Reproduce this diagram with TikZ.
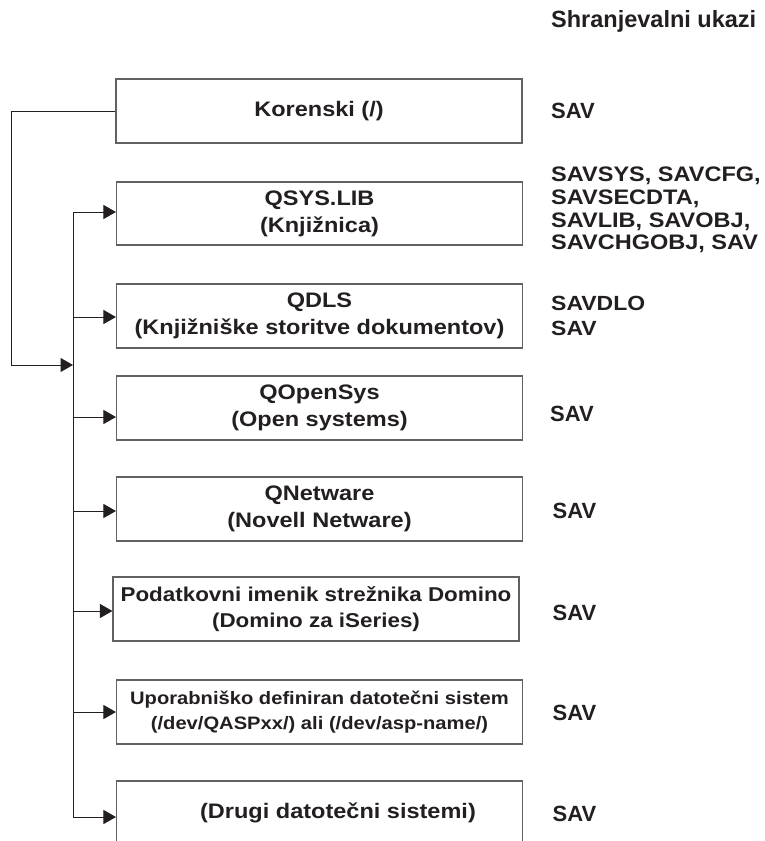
\documentclass[tikz,border=0pt]{standalone}
\usepackage{fontspec}
\setmainfont{Liberation Sans}
\newfontfamily\boxfont{Liberation Sans}[FakeStretch=1.12]
\usetikzlibrary{arrows.meta}
\definecolor{ink}{HTML}{231F20}
\begin{document}
\begin{tikzpicture}[x=1pt,y=-1pt,
  fsbox/.style={draw=black!62, line width=1.1pt, minimum width=406pt,
    minimum height=64pt, inner sep=0pt, align=center, text=ink,
    font=\boxfont\bfseries\fontsize{21}{27}\selectfont},
  wire/.style={draw=ink, line width=1pt},
  feed/.style={wire, -{Triangle[length=12.5pt,width=14pt]}},
  cmd/.style={anchor=west, inner sep=0pt, align=left, text=ink,
    font=\bfseries\fontsize{22}{24.5}\selectfont}]
\useasboundingbox (0,0) rectangle (765,841);
\clip (0,0) rectangle (765,841);

% file system boxes
\node[fsbox] (root) at (319,111) {Korenski (/)};
\node[fsbox, minimum height=63pt] (qsys) at (319.5,213.5) {QSYS.LIB\\(Knjižnica)};
\node[fsbox] (qdls) at (319.5,316) {QDLS\\(Knjižniške storitve dokumentov)};
\node[fsbox] (qopen) at (319.5,408) {QOpenSys\\(Open systems)};
\node[fsbox] (qnet) at (319.5,509) {QNetware\\(Novell Netware)};
\node[fsbox, font=\boxfont\bfseries\fontsize{20}{25.5}\selectfont] (domino) at (316,609)
  {Podatkovni imenik strežnika Domino\\(Domino za iSeries)};
\node[fsbox, font=\boxfont\bfseries\fontsize{18}{24.5}\selectfont] (udfs) at (319.5,712)
  {Uporabniško definiran datotečni sistem\\(/dev/QASPxx/) ali (/dev/asp-name/)};
\node[fsbox] (other) at (319.5,813) {\hspace*{37pt}(Drugi datotečni sistemi)};

% save commands column
\node[cmd, font=\bfseries\fontsize{23.5}{26}\selectfont] (head) at (551,21) {Shranjevalni ukazi};
\node[cmd] (c1) at (551,110.5) {SAV};
\node[cmd, font=\boxfont\bfseries\fontsize{21}{22.7}\selectfont] (c2) at (551,210)
  {SAVSYS, SAVCFG,\\SAVSECDTA,\\SAVLIB, SAVOBJ,\\SAVCHGOBJ, SAV};
\node[cmd, font=\boxfont\bfseries\fontsize{20.5}{24.5}\selectfont] (c3) at (551,316) {SAVDLO\\SAV};
\node[cmd] (c4) at (550,413.5) {SAV};
\node[cmd] (c5) at (552.5,511) {SAV};
\node[cmd] (c6) at (552.5,612.5) {SAV};
\node[cmd] (c7) at (552.5,712.5) {SAV};
\node[cmd] (c8) at (552.5,814) {SAV};

% connectors
\coordinate (ttop) at (73,212);
\coordinate (tbot) at (73,817);
\coordinate (loop) at (11,365);
\coordinate (join) at (73,365);
\draw[wire] (ttop) -- (tbot);
\draw[feed] (root.west) -| (loop) -- (join);

\coordinate (b1) at (73,212);
\coordinate (b2) at (73,317);
\coordinate (b3) at (73,417);
\coordinate (b4) at (73,511);
\coordinate (b5) at (73,611);
\coordinate (b6) at (73,712);
\coordinate (b7) at (73,817);
\draw[feed] (b1) -- (b1 -| qsys.west);
\draw[feed] (b2) -- (b2 -| qdls.west);
\draw[feed] (b3) -- (b3 -| qopen.west);
\draw[feed] (b4) -- (b4 -| qnet.west);
\draw[feed] (b5) -- (b5 -| domino.west);
\draw[feed] (b6) -- (b6 -| udfs.west);
\draw[feed] (b7) -- (b7 -| other.west);
\end{tikzpicture}
\end{document}
